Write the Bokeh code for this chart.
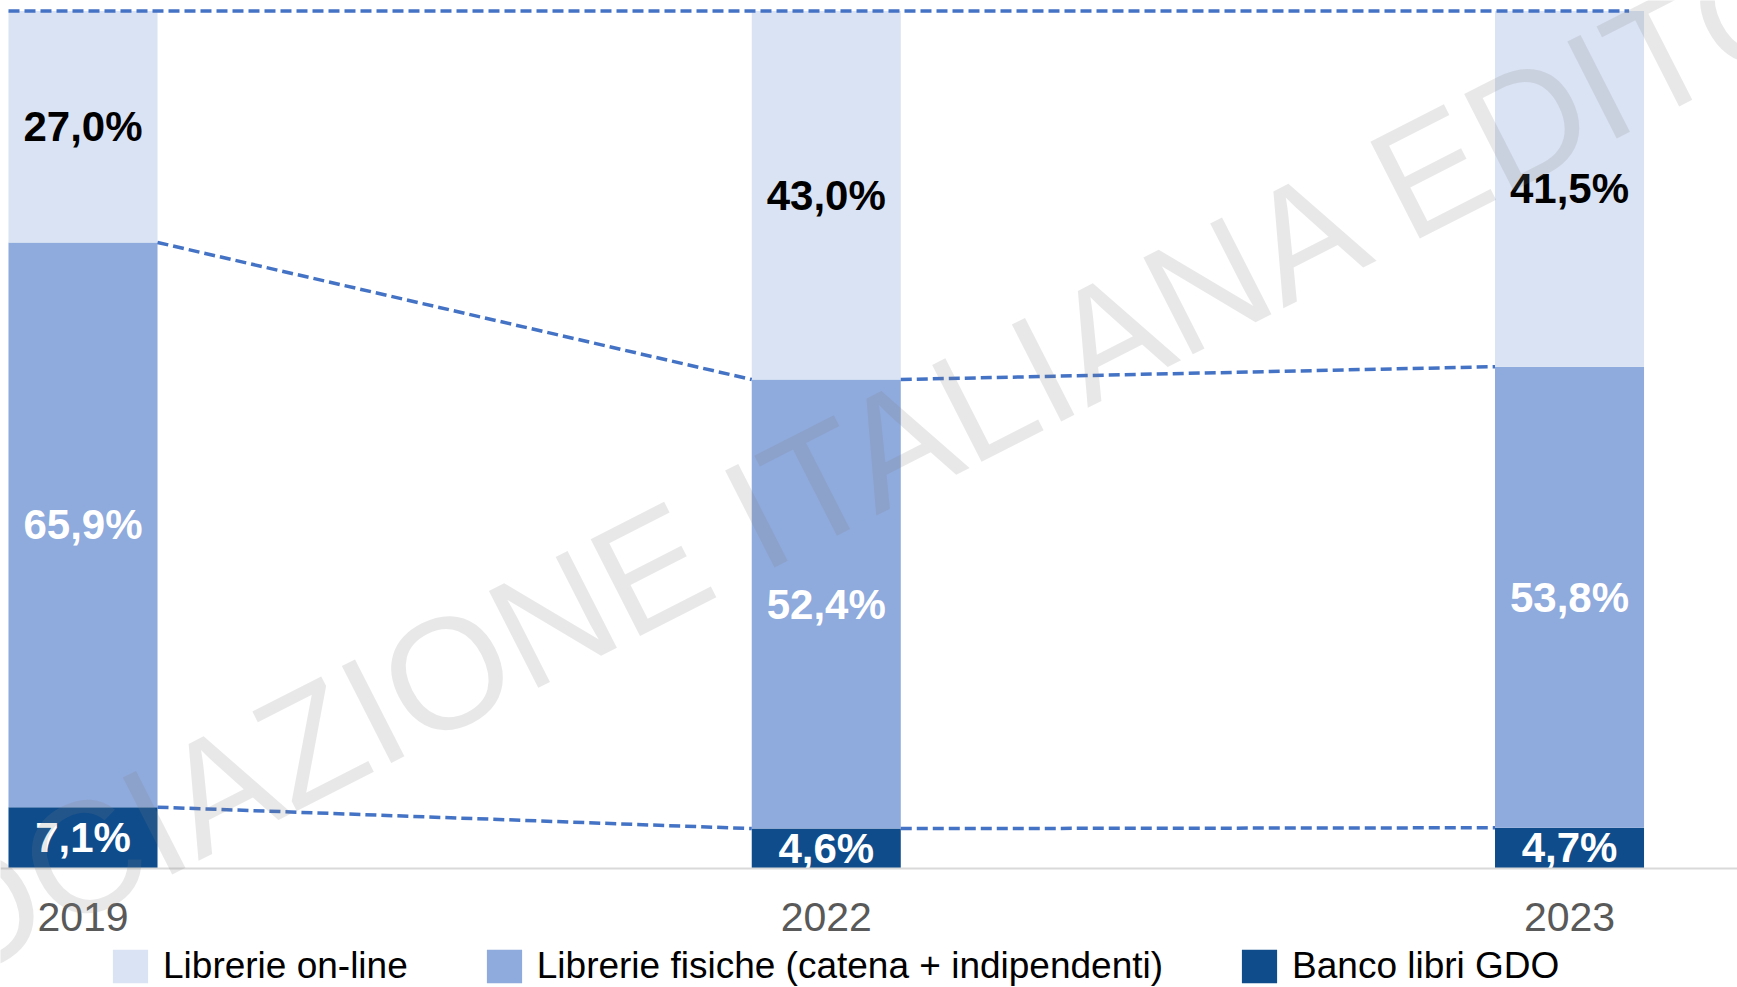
from bokeh.plotting import figure
from bokeh.models import (ColumnDataSource, Range1d, FixedTicker, Legend, LegendItem, Label)
from bokeh.core.properties import value
from bokeh.embed import file_html
from bokeh.resources import INLINE

# ---- data ----
years = ["2019", "2022", "2023"]
banco = [7.1, 4.6, 4.7]          # Banco libri GDO
fisiche = [65.9, 52.4, 53.8]     # Librerie fisiche (catena + indipendenti)
online = [27.0, 43.0, 41.5]      # Librerie on-line
series_names = ["Banco libri GDO", "Librerie fisiche (catena + indipendenti)", "Librerie on-line"]

# ---- styles ----
C_DARK = "#0E4C8C"
C_MID = "#8FAADC"
C_LIGHT = "#DAE3F3"
C_LINE = "#4472C4"
FONT = "Liberation Sans"
BAR_W = 0.2005

n = len(years)
xs = list(range(n))

def fmt(v):
    return f"{v:.1f}".replace(".", ",") + "%"

cum1 = banco[:]
cum2 = [a + b for a, b in zip(banco, fisiche)]
cum3 = [a + b + c for a, b, c in zip(banco, fisiche, online)]

src = ColumnDataSource(dict(x=xs, banco=banco, fisiche=fisiche, online=online))

p = figure(width=1737, height=987, output_backend="svg", toolbar_location=None,
           x_range=Range1d(-0.111, 2.226), y_range=Range1d(-13.94, 101.23),
           y_axis_location=None, min_border_left=0, min_border_right=0,
           min_border_top=0, min_border_bottom=0)
p.outline_line_color = None
p.xgrid.visible = False
p.ygrid.visible = False
p.background_fill_color = "white"

rs = p.vbar_stack(["banco", "fisiche", "online"], x="x", width=BAR_W,
                  color=[C_DARK, C_MID, C_LIGHT], line_color=None, source=src)

# series lines (connect cumulative boundaries between consecutive bars)
for cum in (cum1, cum2):
    p.segment(x0=[i + BAR_W / 2 for i in xs[:-1]], y0=cum[:-1],
              x1=[i + 1 - BAR_W / 2 for i in xs[:-1]], y1=cum[1:],
              line_color=C_LINE, line_width=3.5, line_dash="11 5")
p.segment(x0=[xs[0] - BAR_W / 2], y0=[cum3[0]], x1=[xs[-1] + BAR_W / 2 * 0.8], y1=[cum3[-1]],
          line_color=C_LINE, line_width=3.5, line_dash="11 5")

# value labels
lab = ColumnDataSource(dict(
    x=xs * 3,
    y=[c / 2 for c in banco] + [a + b / 2 for a, b in zip(cum1, fisiche)] + [a + b / 2 for a, b in zip(cum2, online)],
    t=[fmt(v) for v in banco] + [fmt(v) for v in fisiche] + [fmt(v) for v in online],
    c=["white"] * n + ["white"] * n + ["black"] * n,
))
p.text(x="x", y="y", text="t", text_color="c", source=lab, text_align="center",
       text_baseline="middle", text_font=value(FONT), text_font_style="bold",
       text_font_size="42px")

# x axis, drawn at y = 0 inside the frame
p.xaxis.fixed_location = 0
p.xaxis.ticker = FixedTicker(ticks=xs)
p.xaxis.major_label_overrides = {i: y for i, y in zip(xs, years)}
p.xaxis.axis_line_color = "#D9D9D9"
p.xaxis.axis_line_width = 2
p.xaxis.major_tick_line_color = None
p.xaxis.minor_tick_line_color = None
p.xaxis.major_tick_out = 0
p.xaxis.major_tick_in = 0
p.xaxis.major_label_standoff = 35
p.xaxis.major_label_text_font = FONT
p.xaxis.major_label_text_font_size = "41px"
p.xaxis.major_label_text_color = "#595959"

# legend
items = [LegendItem(label=series_names[2], renderers=[rs[2]]),
         LegendItem(label=series_names[1], renderers=[rs[1]]),
         LegendItem(label=series_names[0], renderers=[rs[0]])]
leg = Legend(items=items, orientation="horizontal", location=(108, 0),
             padding=0, margin=0, spacing=74, label_standoff=11,
             glyph_width=44, glyph_height=42,
             border_line_color=None, background_fill_alpha=0,
             label_text_font=FONT, label_text_font_size="37px", label_text_color="black")
p.add_layout(leg, "center")

# watermark
wm = Label(x=800, y=495, x_units="screen", y_units="screen",
           text="ASSOCIAZIONE ITALIANA EDITORI", angle=27, angle_units="deg",
           text_align="center", text_baseline="middle", text_font=FONT,
           text_font_size="158px", text_color="#7F7F7F", text_alpha=0.18)
p.add_layout(wm)

open("out.html", "w").write(file_html(p, INLINE))
